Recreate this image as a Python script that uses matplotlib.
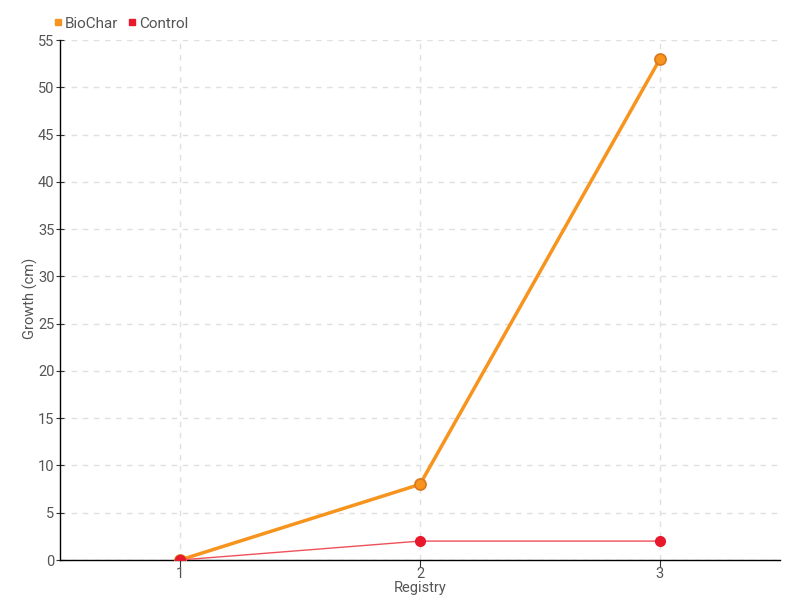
import matplotlib
matplotlib.use("Agg")
import matplotlib.pyplot as plt
from matplotlib.lines import Line2D

categories = ["1", "2", "3"]
biochar = [0, 8, 53]
control = [0, 2, 2]
yticks = list(range(0, 56, 5))

plt.rcParams['font.family'] = ['Roboto', 'DejaVu Sans']

fig = plt.figure(figsize=(8, 6), dpi=100)
ax = fig.add_axes([0.075, 1 - 560/600, 0.9, 520/600])

x = [1, 2, 3]
ax.plot(x, biochar, color='#f7941d', lw=2.5, marker='o', ms=8,
        markerfacecolor='#f7941d', markeredgecolor='#d9781a', markeredgewidth=1.2, zorder=3)
ax.plot(x, control, color='#f0505a', lw=1, marker='o', ms=7,
        markerfacecolor='#e8192c', markeredgecolor='#e8192c', zorder=4)

ax.set_xlim(0.5, 3.5)
ax.set_ylim(0, 55)
ax.set_xticks(x)
ax.set_xticklabels(categories)
ax.set_yticks(yticks)
for s in ['top', 'right']:
    ax.spines[s].set_visible(False)
for s in ['left', 'bottom']:
    ax.spines[s].set_color('black')
    ax.spines[s].set_linewidth(1)
ax.grid(True, color='#e0e0e0', linestyle=(0, (4, 4)), lw=1)
ax.set_axisbelow(True)
ax.tick_params(axis='both', colors='#333333', labelcolor='#555555', labelsize=10.5, length=5, pad=1)
ax.tick_params(axis='x', pad=0)
ax.tick_params(axis='y', direction='inout', length=6)
ax.set_xlabel('Registry', color='#555555', fontsize=10.5, va='center')
ax.set_ylabel('Growth (cm)', color='#555555', fontsize=10.5, va='center')
ax.xaxis.set_label_coords(0.5, -28/520)
ax.yaxis.set_label_coords(-30/720, 0.504)

handles = [Line2D([], [], ls='none', marker='s', ms=5, color='#f7941d'),
           Line2D([], [], ls='none', marker='s', ms=5, color='#e8192c')]
fig.legend(handles, ['BioChar', 'Control'], loc='upper left', bbox_to_anchor=(0.048, 0.995),
           ncol=2, frameon=False, fontsize=11, handletextpad=0.05, columnspacing=0.5,
           handlelength=0.8, labelcolor='#555555')

fig.savefig('out.png', dpi=100)
